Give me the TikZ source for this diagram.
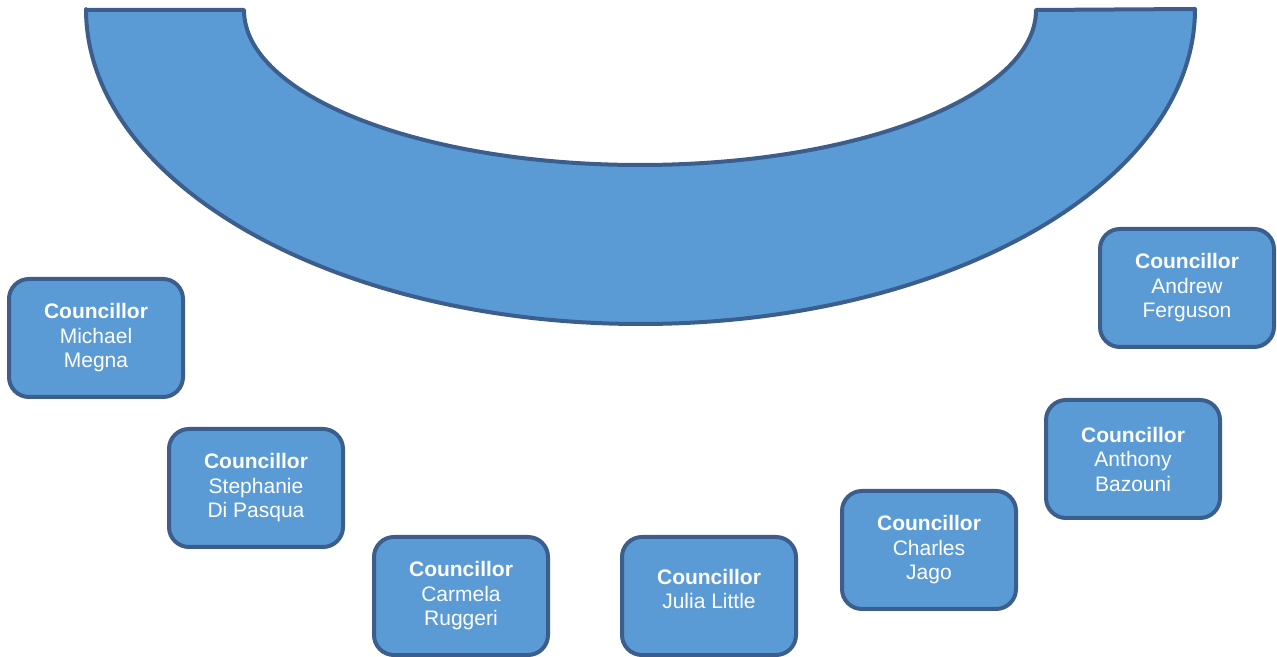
\documentclass[tikz,border=0pt]{standalone}
\usepackage{fontspec}
\setmainfont{Liberation Sans}
\definecolor{fillblue}{RGB}{91,155,213}
\definecolor{edgeblue}{RGB}{59,94,140}
\begin{document}
\begin{tikzpicture}[x=1pt,y=1pt,
  seat/.style={draw=edgeblue, fill=fillblue, line width=4pt, rounded corners=20pt,
    minimum width=174pt, minimum height=118pt, inner sep=0pt, align=center,
    text=white, font=\fontsize{21}{24.5}\selectfont},
  seattext/.style={inner sep=0pt, align=center, text=white,
    font=\fontsize{21}{24.5}\selectfont},
  dais/.style={draw=edgeblue, fill=fillblue, line width=4pt, line join=round}]
\useasboundingbox (0,0) rectangle (1277,656);
\clip (0,0) rectangle (1277,656);
\draw[dais] (86,646) -- (244,646)
  arc[start angle=180, end angle=360, x radius=396, y radius=155]
  -- (1195,647)
  arc[start angle=0, end angle=-180, x radius=554.5, y radius=315] -- cycle;
\node[seat] (megna) at (96,318) {\textbf{Councillor}\\Michael\\Megna};
\node[seat] (dipasqua) at (256,168) {\textbf{Councillor}\\Stephanie\\Di Pasqua};
\node[seat] (ruggeri) at (461,60) {\textbf{Councillor}\\Carmela\\Ruggeri};
\node[seat] (little) at (709,60) {};
\node[seattext] (littletext) at ([yshift=7pt]little.center) {\textbf{Councillor}\\Julia Little};
\node[seat] (jago) at (929,106) {\textbf{Councillor}\\Charles\\Jago};
\node[seat] (bazouni) at (1133,197) {\textbf{Councillor}\\Anthony\\Bazouni};
\node[seat] (ferguson) at (1187,368) {\textbf{Councillor}\\Andrew\\Ferguson};
\end{tikzpicture}
\end{document}
